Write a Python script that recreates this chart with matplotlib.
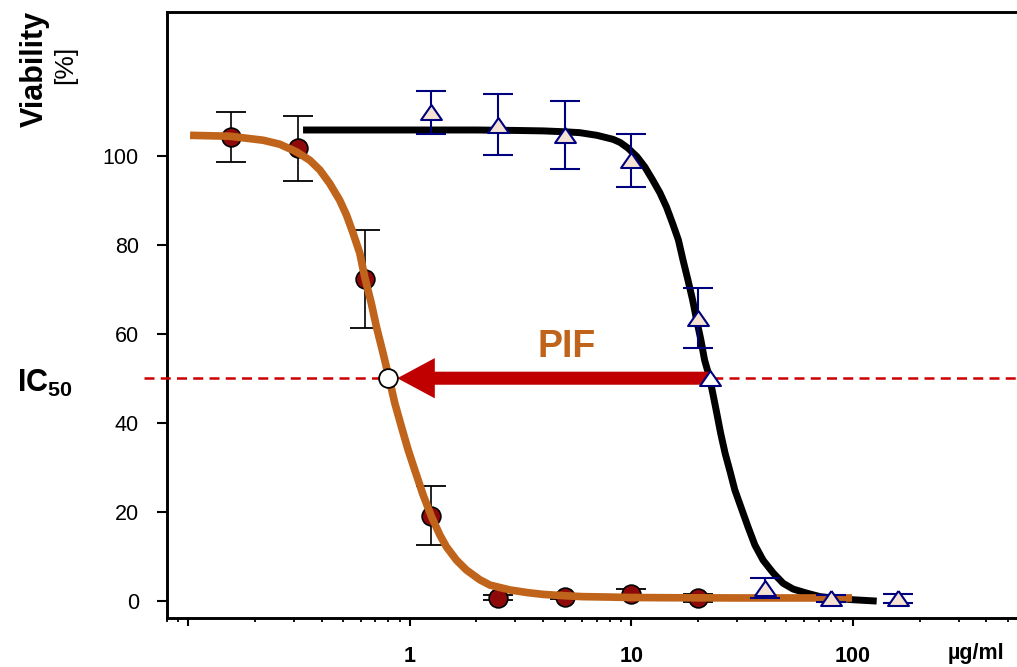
import matplotlib
matplotlib.use("Agg")
import matplotlib.pyplot as plt
from matplotlib.patches import FancyArrowPatch, ArrowStyle
from matplotlib.ticker import FixedLocator, FixedFormatter, LogLocator, NullFormatter

plt.rcParams['font.family'] = ['Liberation Sans', 'DejaVu Sans']
plt.rcParams['mathtext.fontset'] = 'custom'
plt.rcParams['mathtext.rm'] = 'Liberation Sans'
plt.rcParams['mathtext.bf'] = 'Liberation Sans:bold'

pif_conc = [0.156, 0.3125, 0.625, 1.25, 2.5, 5, 10, 20]
pif_mean = [104.3, 101.7, 72.3, 19.1, 0.7, 0.9, 1.6, 0.7]
pif_sd = [5.6, 7.3, 11.0, 6.6, 0.6, 0.5, 1.0, 0.9]

ctrl_conc = [1.25, 2.5, 5, 10, 20, 40, 80, 160]
ctrl_mean = [109.8, 107.0, 104.7, 99.0, 63.6, 2.9, 0.5, 0.5]
ctrl_sd = [4.8, 6.9, 7.7, 6.0, 6.7, 2.2, 0.8, 1.0]

# fitted curves, points
pif_fit_x = [0.102, 0.154, 0.218, 0.259, 0.308, 0.354, 0.393, 0.435, 0.483, 0.518,
             0.555, 0.595, 0.626, 0.671, 0.707, 0.758, 0.804, 0.856, 0.917, 0.983,
             1.053, 1.148, 1.253, 1.366, 1.464, 1.625, 1.8, 2.07, 2.3, 2.83,
             3.4, 4, 5, 6, 8, 10, 15, 30, 60, 99]
pif_fit_y = [104.6, 104.4, 103.5, 102.6, 100.9, 99.0, 96.8, 93.8, 90.0, 86.7,
             82.6, 78.1, 72.8, 66.8, 61.6, 55.6, 50.3, 44.4, 39.1, 33.9,
             29.4, 23.8, 18.9, 14.8, 12.1, 9.1, 6.9, 4.7, 3.5, 2.4,
             1.8, 1.4, 1.1, 0.9, 0.8, 0.7, 0.65, 0.6, 0.6, 0.6]

ctrl_fit_x = [0.33, 1, 2, 3, 4, 5, 5.85, 7, 8.27, 8.9, 9.67, 10.6, 11.5, 12.5, 13.45,
              14.4, 15.35, 16.3, 17.1, 18.0, 18.9, 19.7, 20.6, 21.4, 22.5, 23.4,
              24.3, 25.3, 26.5, 27.9, 29.3, 31.5, 33.6, 36.1, 39.3, 43.7, 48.4,
              53.7, 61.7, 71.0, 84.2, 100, 128]
ctrl_fit_y = [105.8, 105.8, 105.8, 105.7, 105.6, 105.4, 105.2, 104.6, 103.7, 103.0,
              101.7, 99.8, 97.5, 94.5, 91.7, 88.5, 84.8, 81.1, 76.6, 72.1, 67.6,
              63.1, 58.6, 54.1, 50.3, 46.2, 42.1, 37.6, 33.1, 29.0, 24.9, 20.5,
              16.6, 12.5, 9.1, 6.2, 3.9, 2.6, 1.7, 0.9, 0.5, 0.2, -0.1]

ic50_level = 50
pif_ic50 = 0.80
ctrl_ic50 = 22.6

x_ticks = [0.1, 1, 10, 100]
x_labels = ['', '1', '10', '100']
y_ticks = [0, 20, 40, 60, 80, 100]

orange = '#BF641A'
red = '#C00000'
navy = '#00007F'

fig = plt.figure(figsize=(10.17, 6.67), dpi=100)
ax = fig.add_axes([0.1639, 0.0735, 0.8361, 0.909])
ax.set_xscale('log')
ax.set_xlim(0.08, 550)
ax.set_ylim(-3.9, 132.4)

tri = [(0, 0.72), (-1, -0.72), (1, -0.72), (0, 0.72)]

# curves
ax.plot(ctrl_fit_x, ctrl_fit_y, color='black', lw=5, zorder=2,
        solid_capstyle='butt', solid_joinstyle='round')
ax.errorbar(pif_conc, pif_mean, yerr=pif_sd, fmt='none', ecolor='black',
            elinewidth=1.2, capsize=11, capthick=1.3, zorder=2.5)
ax.plot(pif_conc, pif_mean, 'o', ms=13.5, mfc='#8E0A0A', mec='black', mew=1.2, zorder=3)
ax.plot(pif_fit_x, pif_fit_y, color=orange, lw=5.5, zorder=4,
        solid_capstyle='butt', solid_joinstyle='round')

# IC50 line and arrow
ax.plot([-0.0267, 1], [ic50_level, ic50_level], transform=ax.get_yaxis_transform(),
        color='#CC0000', lw=1.8, ls=(0, (4, 2.5)), clip_on=False, zorder=3.5)
arrow = FancyArrowPatch((ctrl_ic50, ic50_level), (pif_ic50, ic50_level),
                        arrowstyle=ArrowStyle.Simple(head_length=27, head_width=29, tail_width=9.4),
                        mutation_scale=1, shrinkA=0, shrinkB=6.5,
                        fc=red, ec='none', lw=0, zorder=5.5)
ax.add_patch(arrow)
ax.text(5.1, 54.8, 'PIF', color=orange, fontsize=27, fontweight='bold',
        ha='center', va='baseline')

ax.errorbar(ctrl_conc, ctrl_mean, yerr=ctrl_sd, fmt='none', ecolor=navy,
            elinewidth=1.5, capsize=11, capthick=1.5, zorder=5)
ax.plot(ctrl_conc, ctrl_mean, ls='none', marker=tri, ms=15, mfc='#F6E2D3',
        mec=navy, mew=1.5, zorder=6)

ax.plot([ctrl_ic50], [ic50_level], ls='none', marker=tri, ms=15, mfc='white',
        mec=navy, mew=1.5, zorder=7)
ax.plot([pif_ic50], [ic50_level], 'o', ms=13.5, mfc='white', mec='black', mew=1.3, zorder=7)

# axes styling
ax.spines['right'].set_visible(False)
for s in ['left', 'top', 'bottom']:
    ax.spines[s].set_linewidth(2.1)

ax.xaxis.set_major_locator(FixedLocator(x_ticks))
ax.xaxis.set_major_formatter(FixedFormatter(x_labels))
ax.xaxis.set_minor_locator(LogLocator(base=10, subs=range(2, 10), numticks=20))
ax.xaxis.set_minor_formatter(NullFormatter())
ax.set_yticks(y_ticks)

ax.tick_params(axis='x', which='major', direction='out', length=6, width=1.5, pad=14,
               labelsize=15.5)
ax.tick_params(axis='x', which='minor', direction='out', length=3.2, width=1.3)
ax.tick_params(axis='y', which='major', direction='out', length=7, width=1.5, pad=13,
               labelsize=15.5)
for lab in ax.get_xticklabels():
    lab.set_fontweight('bold')

W, H = 1017, 667
fig.text(35 / W, 1 - 69 / H, 'Viability', rotation=90, fontsize=22, fontweight='bold',
         ha='center', va='center')
fig.text(65 / W, 1 - 65 / H, '[%]', rotation=90, fontsize=19, ha='center', va='center')
fig.text(17 / W, 1 - 392 / H, r'$\mathbf{IC}_{\mathbf{50}}$', fontsize=22,
         ha='left', va='baseline')
fig.text(976 / W, 1 - 659 / H, 'µg/ml', fontsize=15.5, fontweight='bold',
         ha='center', va='baseline')

fig.savefig('out.png', dpi=100)
